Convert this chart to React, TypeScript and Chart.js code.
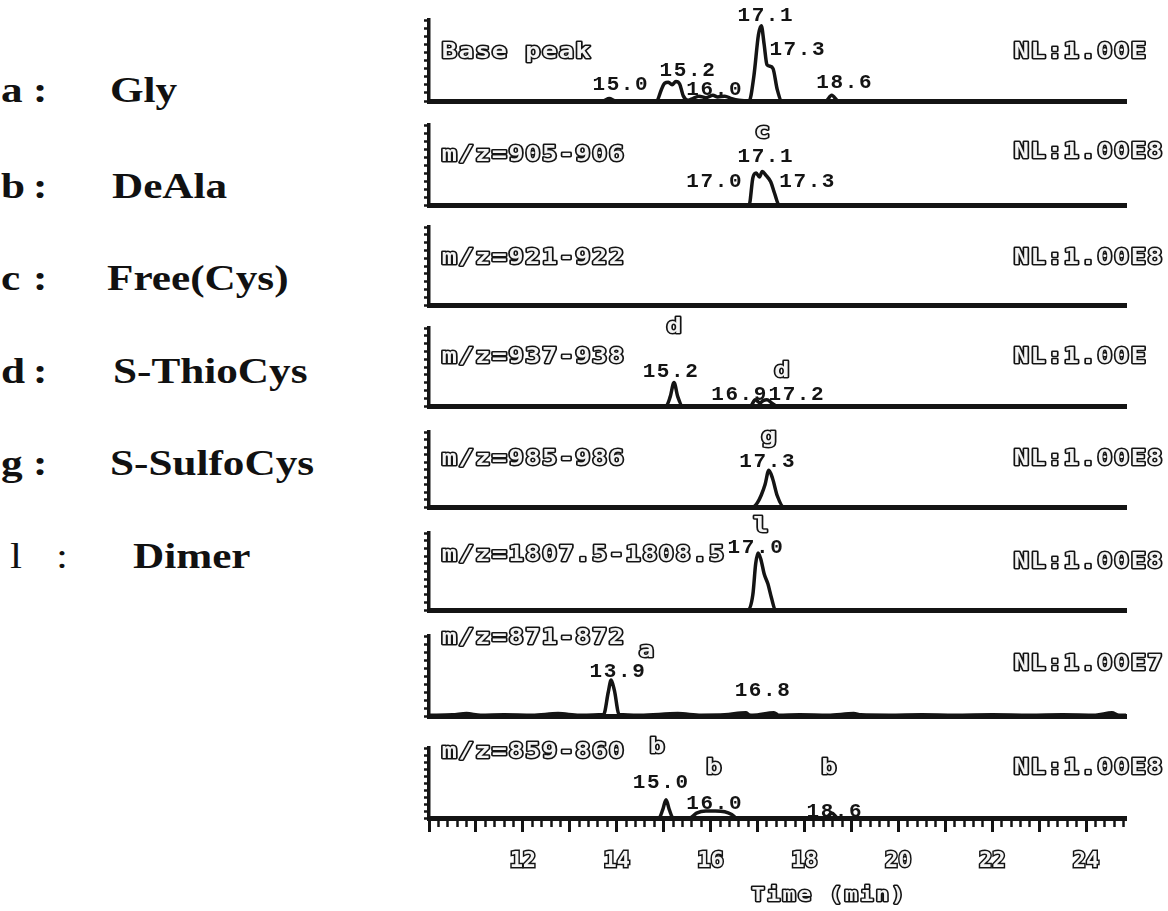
import React, { useEffect, useRef } from 'react';
import { Chart, registerables } from 'chart.js';
Chart.register(...registerables);

// ---------------- data ----------------
const T_MIN = 10;
const T_MAX = 24.85;
const xTickLabels = [12, 14, 16, 18, 20, 22, 24];

const panelNames = ['Base peak', 'm/z=905-906', 'm/z=921-922', 'm/z=937-938', 'm/z=985-986', 'm/z=1807.5-1808.5', 'm/z=871-872', 'm/z=859-860'];
const nlLabels = ['NL:1.00E', 'NL:1.00E8', 'NL:1.00E8', 'NL:1.00E', 'NL:1.00E8', 'NL:1.00E8', 'NL:1.00E7', 'NL:1.00E8'];

// traces: retention time (min) and relative abundance (%)
const basePeakT = [10, 13.7, 13.84, 13.98, 14.85, 14.95, 15.02, 15.1, 15.18, 15.26, 15.34, 15.42, 15.52, 15.62, 15.75, 15.9, 16.05, 16.15, 16.3, 16.45, 16.6, 16.82, 16.92, 17.02, 17.08, 17.14, 17.2, 17.26, 17.33, 17.42, 17.52, 18.45, 18.58, 18.72, 24.85];
const basePeakY = [0, 0, 3, 0, 0, 14, 22, 23, 20, 24, 21, 6, 1, 3, 6, 4, 7, 5, 6, 3, 1, 0, 30, 82, 93, 70, 45, 43, 40, 14, 0, 0, 7, 0, 0];

const mz905T = [10, 16.82, 16.9, 16.97, 17.04, 17.1, 17.18, 17.28, 17.36, 17.46, 24.85];
const mz905Y = [0, 0, 34, 40, 35, 42, 37, 29, 15, 0, 0];

const mz921T = [10, 24.85];
const mz921Y = [0, 0];

const mz937T = [10, 15.05, 15.14, 15.22, 15.3, 15.4, 16.85, 16.95, 17.05, 17.12, 17.2, 17.3, 17.42, 24.85];
const mz937Y = [0, 0, 12, 30, 12, 0, 0, 8, 4, 7, 8, 4, 0, 0];

const mz985T = [10, 16.9, 17.0, 17.08, 17.16, 17.24, 17.32, 17.42, 17.56, 24.85];
const mz985Y = [0, 0, 6, 16, 30, 49, 38, 15, 0, 0];

const mz1807T = [10, 16.8, 16.9, 16.96, 17.01, 17.07, 17.14, 17.22, 17.3, 17.38, 24.85];
const mz1807Y = [0, 0, 20, 60, 74, 66, 47, 34, 15, 0, 0];

const mz871T = [10, 10.5, 10.8, 11.1, 11.6, 12.2, 12.75, 13.2, 13.72, 13.82, 13.88, 13.95, 14.05, 14.5, 15.3, 15.8, 16.3, 16.75, 16.82, 16.9, 17.35, 17.45, 17.9, 18.5, 19.05, 19.2, 19.8, 20.5, 21.2, 22.0, 22.8, 23.5, 24.2, 24.55, 24.7, 24.85];
const mz871Y = [1, 1.5, 3, 1, 1.5, 1, 3, 1, 2, 30, 45, 32, 2, 1, 3, 1, 1.5, 4, 1.5, 1, 4, 1, 1.5, 1, 3, 1.5, 1, 1.5, 1, 1.5, 1, 1.5, 1, 4, 1, 1];

const mz859T = [10, 14.9, 14.98, 15.05, 15.12, 15.2, 15.55, 15.7, 15.9, 16.1, 16.3, 16.45, 16.55, 18.45, 18.58, 18.72, 24.85];
const mz859Y = [0, 0, 12, 26, 12, 0, 0, 7, 10, 10, 9, 5, 0, 0, 7, 0, 0];

// annotations: [time, abundance %, text]
type Note = [number, number, string];
const basePeakNotes: Note[] = [[14.07, 20, '15.0'], [15.5, 38, '15.2'], [16.07, 14, '16.0'], [17.16, 105, '17.1'], [17.84, 63, '17.3'], [18.84, 22, '18.6']];
const mz905Notes: Note[] = [[17.1, 90, 'c'], [17.16, 60, '17.1'], [16.07, 29, '17.0'], [18.05, 29, '17.3']];
const mz921Notes: Note[] = [];
const mz937Notes: Note[] = [[15.22, 100, 'd'], [15.14, 44, '15.2'], [16.6, 14, '16.9'], [17.82, 14, '17.2'], [17.52, 44, 'd']];
const mz985Notes: Note[] = [[17.24, 93, 'g'], [17.2, 60, '17.3']];
const mz1807Notes: Note[] = [[17.07, 108, 'l'], [16.95, 81, '17.0']];
const mz871Notes: Note[] = [[14.63, 80, 'a'], [14.01, 55, '13.9'], [17.1, 32, '16.8']];
const mz859Notes: Note[] = [[14.86, 100, 'b'], [14.93, 50, '15.0'], [16.07, 71, 'b'], [16.07, 21, '16.0'], [18.52, 71, 'b'], [18.63, 9, '18.6']];

const legendKeys = ['a', 'b', 'c', 'd', 'g', 'l'];
const legendNames = ['Gly', 'DeAla', 'Free(Cys)', 'S-ThioCys', 'S-SulfoCys', 'Dimer'];

// ---------------- layout ----------------
const W = 1168;
const H = 911;
const PLOT_LEFT = 429;
const PLOT_RIGHT = 1126;
const PANEL_TOPS = [20, 125, 227, 328, 432, 533, 636, 748];
const PANEL_BASES = [101, 205, 305, 406, 507, 610, 716, 818];
const NAME_PCT = [60, 62, 60, 62, 63, 71, 97, 93];
const NL_PCT = [60, 66, 60, 62, 63, 62, 64, 71];
const LEGEND_BASELINES = [102, 198, 290, 383, 475, 568];
const LEGEND_KEY_X = [1, 1, 1, 1, 1, 10];
const LEGEND_COLON_X = [33, 33, 33, 33, 33, 56];
const LEGEND_NAME_X = [110, 112, 107, 113, 110, 133];

const PANELS = [
  { name: panelNames[0], nl: nlLabels[0], t: basePeakT, y: basePeakY, notes: basePeakNotes },
  { name: panelNames[1], nl: nlLabels[1], t: mz905T, y: mz905Y, notes: mz905Notes },
  { name: panelNames[2], nl: nlLabels[2], t: mz921T, y: mz921Y, notes: mz921Notes },
  { name: panelNames[3], nl: nlLabels[3], t: mz937T, y: mz937Y, notes: mz937Notes },
  { name: panelNames[4], nl: nlLabels[4], t: mz985T, y: mz985Y, notes: mz985Notes },
  { name: panelNames[5], nl: nlLabels[5], t: mz1807T, y: mz1807Y, notes: mz1807Notes },
  { name: panelNames[6], nl: nlLabels[6], t: mz871T, y: mz871Y, notes: mz871Notes },
  { name: panelNames[7], nl: nlLabels[7], t: mz859T, y: mz859Y, notes: mz859Notes },
];

const INK = '#141414';
const OUTLINE_FONT = '"DejaVu Sans Mono"';
const PITCH = 16.7;

function drawOutlined(ctx: CanvasRenderingContext2D, text: string, xLeft: number, yMid: number, size = 21, pitch = PITCH, sx = 1.2) {
  ctx.save();
  ctx.font = `bold ${size}px ${OUTLINE_FONT}`;
  ctx.textBaseline = 'middle';
  ctx.textAlign = 'center';
  ctx.lineJoin = 'round';
  for (let i = 0; i < text.length; i++) {
    const ch = text[i];
    if (ch === ' ') continue;
    ctx.save();
    ctx.translate(xLeft + pitch * (i + 0.5), yMid);
    ctx.scale(sx, 1);
    ctx.lineWidth = 2.9;
    ctx.strokeStyle = INK;
    ctx.strokeText(ch, 0, 0);
    ctx.fillStyle = '#f4f4f4';
    ctx.fillText(ch, 0, 0);
    ctx.restore();
  }
  ctx.restore();
}

function drawSolid(ctx: CanvasRenderingContext2D, text: string, xMid: number, yMid: number) {
  const pitch = 14.2;
  const xLeft = xMid - (pitch * text.length) / 2;
  ctx.save();
  ctx.font = 'bold 21px "Liberation Mono"';
  ctx.textBaseline = 'middle';
  ctx.textAlign = 'center';
  ctx.fillStyle = INK;
  for (let i = 0; i < text.length; i++) {
    ctx.fillText(text[i], xLeft + pitch * (i + 0.5), yMid);
  }
  ctx.restore();
}

export default function App() {
  const refs = useRef<(HTMLCanvasElement | null)[]>([]);

  useEffect(() => {
    const charts = PANELS.map((p, i) => {
      const cv = refs.current[i]!;
      const isLast = i === PANELS.length - 1;
      const top = PANEL_TOPS[i];
      const base = PANEL_BASES[i];
      const xAxisH = isLast ? 60 : 0;

      const textPlugin = {
        id: 'panelText' + i,
        afterDraw(chart: any) {
          const ctx = chart.ctx as CanvasRenderingContext2D;
          const ca = chart.chartArea;
          const xs = chart.scales.x;
          const ys = chart.scales.y;
          drawOutlined(ctx, p.name, ca.left + 12, ys.getPixelForValue(NAME_PCT[i]));
          drawOutlined(ctx, p.nl, ca.right - 113, ys.getPixelForValue(NL_PCT[i]));
          p.notes.forEach(([t, pct, txt]) => {
            const cx = xs.getPixelForValue(t);
            const cy = ys.getPixelForValue(pct);
            if (/^[a-z]$/.test(txt)) {
              drawOutlined(ctx, txt, cx - PITCH / 2, cy);
            } else {
              drawSolid(ctx, txt, cx, cy);
            }
          });
          if (isLast) {
            const title = 'Time (min)';
            const cx = xs.getPixelForValue(18.5);
            const p2 = PITCH * 0.93;
            drawOutlined(ctx, title, cx - (p2 * title.length) / 2, ca.bottom + 78, 19, p2, 1.15);
          }
        },
      };

      const xScale: any = isLast
        ? {
            type: 'linear', min: T_MIN, max: T_MAX, position: 'bottom',
            afterFit: (s: any) => { s.height = xAxisH; },
            ticks: {
              stepSize: 1, autoSkip: false, includeBounds: false, maxRotation: 0,
              callback: (v: any) => (xTickLabels.includes(Number(v)) ? String(v) : ''),
              font: { family: 'DejaVu Sans Mono', weight: 'bold', size: 22 },
              color: '#f4f4f4', textStrokeColor: INK, textStrokeWidth: 3, padding: 16,
            },
            grid: { display: true, drawOnChartArea: false, drawTicks: true, tickLength: 14, tickWidth: 3, tickColor: INK },
            border: { display: true, width: 5, color: INK },
          }
        : {
            type: 'linear', min: T_MIN, max: T_MAX, position: 'bottom',
            afterFit: (s: any) => { s.height = 0; },
            ticks: { display: false },
            grid: { display: false, drawTicks: false },
            border: { display: true, width: 5, color: INK },
          };

      const scales: any = {
        x: xScale,
        y: {
          type: 'linear', min: 0, max: 100, position: 'left',
          afterFit: (s: any) => { s.width = 8; },
          ticks: { display: false, stepSize: 10 },
          grid: { display: true, drawOnChartArea: false, drawTicks: true, tickLength: 5, tickWidth: 2.5, tickColor: INK, color: INK },
          border: { display: true, width: 3.5, color: INK },
        },
      };
      if (isLast) {
        scales.xMinor = {
          type: 'linear', min: T_MIN, max: T_MAX, position: 'bottom', weight: -1,
          afterFit: (s: any) => { s.height = 0; },
          ticks: { display: false, stepSize: 0.2, autoSkip: false, includeBounds: false },
          grid: { display: true, drawOnChartArea: false, drawTicks: true, tickLength: 9, tickWidth: 2.5, tickColor: INK },
          border: { display: false },
        };
      }

      return new Chart(cv, {
        type: 'line',
        data: {
          datasets: [{
            data: p.t.map((t, k) => ({ x: t, y: p.y[k] })),
            borderColor: INK,
            borderWidth: 3.5,
            pointRadius: 0,
            cubicInterpolationMode: 'monotone',
            fill: false,
            clip: false as any,
          }],
        },
        options: {
          responsive: false,
          animation: false,
          events: [],
          layout: { padding: { left: PLOT_LEFT - 8, right: W - PLOT_RIGHT, top, bottom: H - base - xAxisH } },
          plugins: { legend: { display: false }, tooltip: { enabled: false }, title: { display: false } },
          scales,
        },
        plugins: [textPlugin],
      } as any);
    });
    return () => charts.forEach((c) => c.destroy());
  }, []);

  const serif = '"Liberation Serif", "Times New Roman", serif';
  return (
    <div style={{ position: 'absolute', left: 0, top: 0, width: W, height: H, background: '#fff', overflow: 'hidden' }}>
      {legendKeys.map((k, i) => {
        const top = LEGEND_BASELINES[i] - 30;
        const weight = k === 'l' ? 400 : 700;
        const common: React.CSSProperties = { position: 'absolute', top, fontFamily: serif, fontSize: 36, lineHeight: 1, whiteSpace: 'nowrap', color: '#111', transformOrigin: 'left center', transform: 'scaleX(1.2)' };
        return (
          <React.Fragment key={k}>
            <div style={{ ...common, left: LEGEND_KEY_X[i], fontWeight: weight }}>{k}</div>
            <div style={{ ...common, left: LEGEND_COLON_X[i], fontWeight: weight }}>:</div>
            <div style={{ ...common, left: LEGEND_NAME_X[i], fontWeight: 700 }}>{legendNames[i]}</div>
          </React.Fragment>
        );
      })}
      {PANELS.map((p, i) => (
        <canvas
          key={p.name}
          ref={(el) => { refs.current[i] = el; }}
          width={W}
          height={H}
          style={{ position: 'absolute', left: 0, top: 0, width: W, height: H }}
        />
      ))}
    </div>
  );
}
